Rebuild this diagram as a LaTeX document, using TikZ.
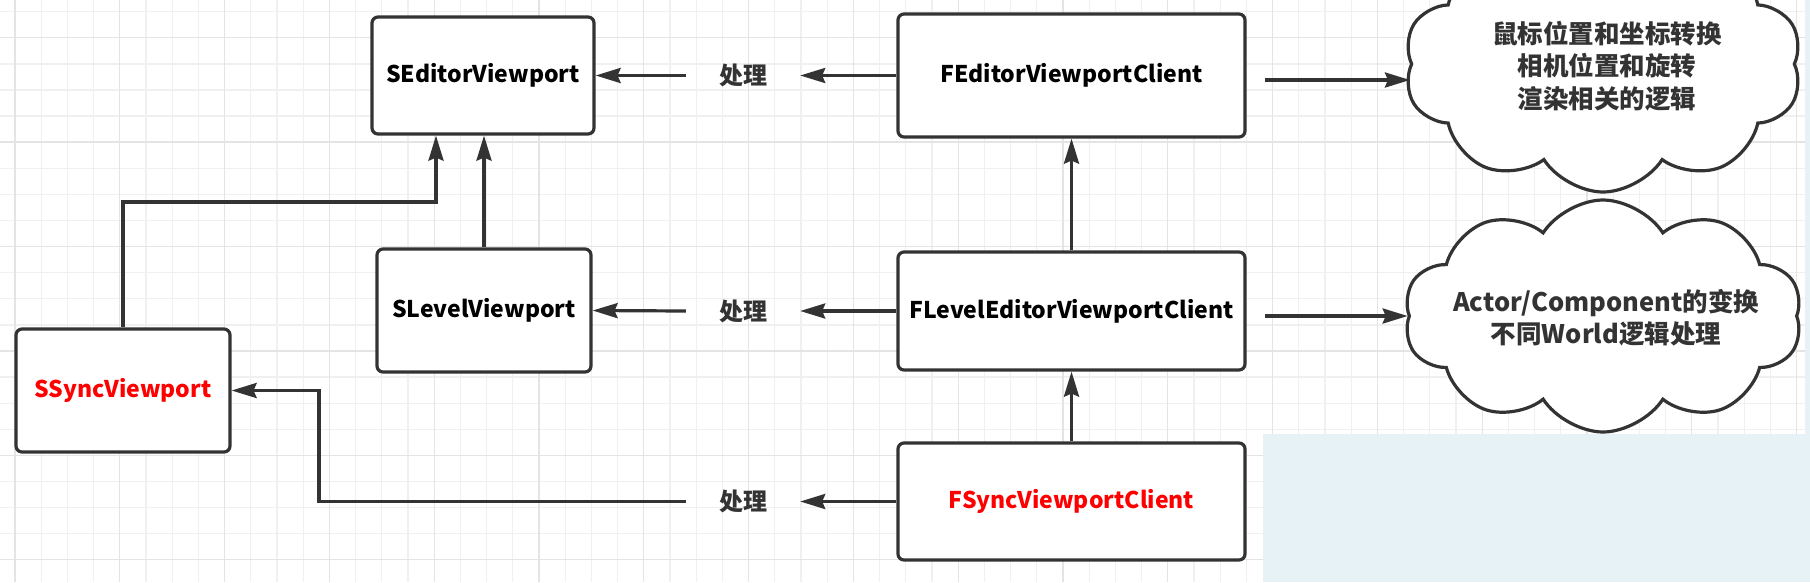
\documentclass[tikz,border=0pt]{standalone}
\usepackage{fontspec}
\setmainfont{Noto Sans CJK SC}
\usetikzlibrary{arrows.meta,shapes.symbols}
\definecolor{linegray}{HTML}{333333}
\definecolor{gridminor}{HTML}{F0F0F0}
\definecolor{gridmajor}{HTML}{E4E4E4}
\definecolor{syncred}{HTML}{FF0000}
\definecolor{paleblue}{HTML}{E7F2F7}
\begin{document}
\begin{tikzpicture}[x=1pt, y=-1pt, >={Stealth[length=25pt, width=15pt, inset=3pt]},
  box/.style={draw=linegray, line width=3.2pt, rectangle, rounded corners=6pt, fill=white, minimum width=347pt, minimum height=118pt, inner sep=0pt, font=\fontsize{23}{28}\selectfont\bfseries},
  smallbox/.style={box, minimum width=214pt, minimum height=123pt},
  via/.style={inner xsep=33pt, inner ysep=0pt, font=\fontsize{24}{28}\selectfont\bfseries, text=linegray},
  link/.style={->, draw=linegray, line width=3.2pt},
  note/.style={cloud, cloud puffs=10, cloud puff arc=115, cloud ignores aspect, draw=linegray, line width=3.2pt, fill=white, minimum width=398pt, minimum height=232pt, inner sep=0pt},
  notetext/.style={align=center, font=\fontsize{25.5}{32.5}\selectfont\bfseries, text=linegray}]
\clip (0,0) rectangle (1810,582);
\fill[white] (0,0) rectangle (1810,582);
% background grid
\foreach \i in {0,...,68} \draw[gridminor, line width=1.3pt] ({15+26.2*\i},0) -- ++(0,582);
\foreach \j in {0,...,22} \draw[gridminor, line width=1.3pt] (0,{11.7+26.1*\j}) -- ++(1810,0);
\foreach \i in {0,...,17} \draw[gridmajor, line width=1.3pt] ({15+104.8*\i},0) -- ++(0,582);
\foreach \j in {0,...,5} \draw[gridmajor, line width=1.3pt] (0,{37.7+104.4*\j}) -- ++(1810,0);
\fill[paleblue] (1263,434) rectangle (1810,582);
\fill[paleblue] (1805,0) rectangle (1810,582);
% viewports
\node[box, minimum width=222pt, minimum height=117pt] (sedit) at (483,75.5) {SEditorViewport};
\node[smallbox] (slevel) at (484,310.5) {SLevelViewport};
\node[smallbox, text=syncred] (ssync) at (123,390.5) {SSyncViewport};
% clients
\node[box, minimum height=123pt] (fedit) at (1071.5,75.5) {FEditorViewportClient};
\node[box] (flevel) at (1071.5,311) {FLevelEditorViewportClient};
\node[box, minimum height=117pt, text=syncred] (fsync) at (1071.5,501.5) {FSyncViewportClient};
\node[via] (viaA) at (743,75.5) {处理};
\node[via] (viaB) at (743,311) {处理};
\node[via] (viaC) at (743,501.5) {处理};
% notes
\node[note, minimum height=256pt] (noteA) at (1603,64) {};
\node[notetext] (noteAtext) at (1607,66) {鼠标位置和坐标转换\\相机位置和旋转\\渲染相关的逻辑};
\node[note] (noteB) at (1603,316) {};
\node[notetext] (noteBtext) at (1606,318) {Actor/Component的变换\\不同World逻辑处理};
% connectors
\draw[link] (fedit.west) -- (viaA.east);
\draw[link] (viaA.west) -- (sedit.east);
\draw[link] (flevel.west) -- (viaB.east);
\draw[link] (viaB.west) -- (slevel.east);
\draw[link] (fsync.west) -- (viaC.east);
\coordinate (bendA) at (319,390.5);
\draw[link] (viaC.west) -| (bendA) -- (ssync.east);
\coordinate (bendB) at (436,202);
\draw[link] (ssync.north) |- (bendB) -- (bendB |- sedit.south);
\draw[link] (slevel.north) -- (slevel.north |- sedit.south);
\draw[link] (flevel.north) -- (fedit.south);
\draw[link] (fsync.north) -- (flevel.south);
\draw[link, shorten <=18pt] ([yshift=-4.5pt]fedit.east) -- ([yshift=-4.5pt]fedit.east -| noteA.west);
\draw[link, shorten <=18pt] ([yshift=-5pt]flevel.east) -- ([yshift=-5pt]flevel.east -| noteB.west);
\end{tikzpicture}
\end{document}
